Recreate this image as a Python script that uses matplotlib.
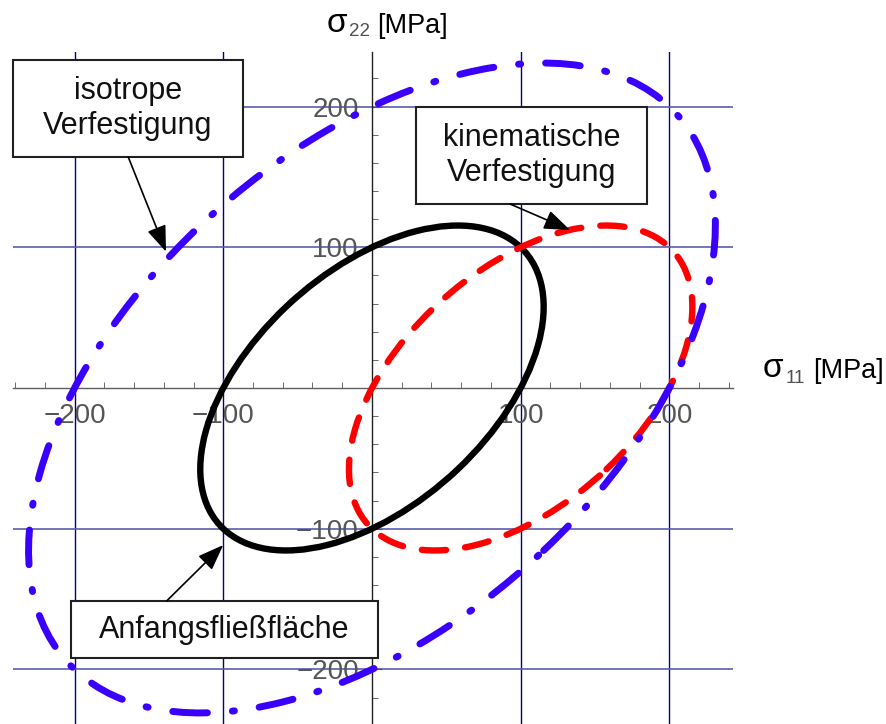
import numpy as np
import matplotlib
matplotlib.use('Agg')
import matplotlib.pyplot as plt
from matplotlib.patches import Ellipse, Rectangle
from matplotlib.ticker import MultipleLocator

plt.rcParams['font.family'] = ['Liberation Sans', 'DejaVu Sans']

# Fließflächen nach von Mises (ebener Spannungszustand), Werte in MPa
flaechen = ['Anfangsfließfläche', 'kinematische Verfestigung', 'isotrope Verfestigung']
fliessspannung = [100, 100, 200]
mitte_s11 = [0, 100, 0]
mitte_s22 = [0, 0, 0]
farben = ['black', '#ff0000', '#3a00ff']
linien = ['-', (0, (3.8, 3.0)), (0, (5.0, 3.6, 0.3, 3.6))]
breiten = [4.6, 4.6, 5.0]

ticks = [-200, -100, 100, 200]
tick_labels = ['−200', '−100', '100', '200']

# Beschriftungskästen: Text, Kasten (x0, y0, b, h), Pfeilanfang, Pfeilspitze
kasten_text = ['isotrope\nVerfestigung', 'kinematische\nVerfestigung', 'Anfangsfließfläche']
kasten = [(-241.4, 164.2, 154.6, 68.9), (29.6, 130.8, 155.3, 68.9), (-202.4, -191.9, 206.4, 40.5)]
pfeil_von = [(-163.9, 164.2), (92.8, 130.8), (-138.1, -151.4)]
pfeil_nach = [(-138.5, 96.9), (133.2, 112.3), (-100.0, -111.6)]

fig = plt.figure(figsize=(8.86, 7.24), dpi=100)
ax = fig.add_axes([13 / 886, 0, 720 / 886, 672 / 724])
ax.set_xlim(-241.4, 242.8)
ax.set_ylim(-238.8, 238.8)

# Ellipsen: Halbachsen sqrt(2)*k entlang der Winkelhalbierenden, sqrt(2/3)*k quer dazu
for k, cx, cy, c, ls, lw in zip(fliessspannung, mitte_s11, mitte_s22, farben, linien, breiten):
    e = Ellipse((cx, cy), width=2 * np.sqrt(2) * k, height=2 * np.sqrt(2 / 3) * k, angle=45,
                fill=False, edgecolor=c, linestyle=ls, lw=lw, zorder=3)
    e.set_capstyle('round')
    e.set_joinstyle('round')
    ax.add_patch(e)

# Achsen durch den Ursprung
for s in ['top', 'right']:
    ax.spines[s].set_visible(False)
for s in ['left', 'bottom']:
    ax.spines[s].set_position(('data', 0))
    ax.spines[s].set_linewidth(1)
ax.spines['left'].set_color('#202020')
ax.spines['bottom'].set_color('#606060')

ax.set_xticks(ticks, tick_labels)
ax.set_yticks(ticks, tick_labels)
ax.xaxis.set_minor_locator(MultipleLocator(20))
ax.yaxis.set_minor_locator(MultipleLocator(20))
ax.tick_params(which='both', direction='in', color='#505050')
ax.tick_params(which='major', length=7, labelsize=20, labelcolor='#555555')
ax.tick_params(which='minor', length=4)
ax.tick_params(axis='x', pad=10.5)
ax.tick_params(axis='y', pad=9.5)

ax.xaxis.grid(True, color='#00008c', lw=1)
ax.yaxis.grid(True, color='#5c5cae', lw=1.2)

# Kästen mit Pfeilen
for txt, (x0, y0, b, h), p0, p1 in zip(kasten_text, kasten, pfeil_von, pfeil_nach):
    ax.add_patch(Rectangle((x0, y0), b, h, facecolor='white', edgecolor='#202020',
                           lw=1.5, zorder=6, clip_on=False))
    ax.text(x0 + b / 2, y0 + h / 2, txt, fontsize=22, ha='center', va='center',
            linespacing=1.2, color='#111111', zorder=7, clip_on=False)
    ax.annotate('', xy=p1, xytext=p0, zorder=7,
                arrowprops=dict(arrowstyle='-|>,head_length=0.8,head_width=0.3', color='black',
                                lw=1.2, shrinkA=0, shrinkB=0, mutation_scale=20))


def px(x, y):
    return x / 886, 1 - y / 724


# Achsenbeschriftungen
fig.text(*px(327, 32), 'σ', fontsize=24, va='baseline')
fig.text(*px(349, 36), '22', fontsize=13.5, color='#505050', va='baseline')
fig.text(*px(377, 33), '[MPa]', fontsize=19.5, va='baseline')
fig.text(*px(763, 377), 'σ', fontsize=24, va='baseline')
fig.text(*px(786, 383), '11', fontsize=13.5, color='#505050', va='baseline')
fig.text(*px(813, 378), '[MPa]', fontsize=19.5, va='baseline')

fig.savefig('out.png', dpi=100)
